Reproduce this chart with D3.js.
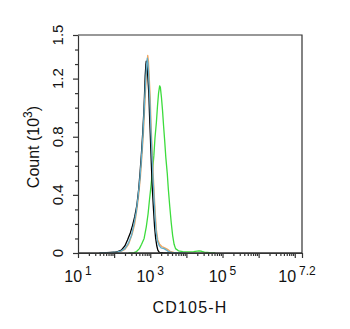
<!DOCTYPE html>
<html><head><meta charset="utf-8">
<script src="https://cdn.jsdelivr.net/npm/d3@7"></script>
<style>body{margin:0;background:#fff}svg{display:block}text{font-family:"Liberation Sans",Arial,sans-serif;fill:#111}</style>
</head><body><svg id="c" width="350" height="329"></svg>
<script>
// x values are log10(CD105-H), y values are counts in 10^3
const xTickExps = [1, 3, 5, 7.2];
const xTickLabels = ["1", "3", "5", "7.2"];
const yTicks = [0, 0.4, 0.8, 1.2, 1.5];
const yTickLabels = ["0", "0.4", "0.8", "1.2", "1.5"];
const seriesNames = ["green", "orange", "black", "blue"];
const seriesColors = ["#3ddc3d", "#f2a862", "#000000", "#62aecb"];
const green = [[2.4,0],[2.55,0.003],[2.62,0.01],[2.7,0.03],[2.76,0.06],[2.83,0.1],[2.89,0.18],[2.94,0.27],[2.98,0.37],[3.02,0.46],[3.06,0.56],[3.1,0.67],[3.13,0.79],[3.17,0.9],[3.2,1.01],[3.23,1.1],[3.26,1.15],[3.28,1.14],[3.31,1.07],[3.34,0.98],[3.37,0.87],[3.4,0.77],[3.43,0.66],[3.47,0.55],[3.5,0.44],[3.54,0.32],[3.58,0.21],[3.62,0.12],[3.66,0.06],[3.7,0.03],[3.78,0.015],[3.9,0.01],[4.05,0.008],[4.2,0.01],[4.35,0.014],[4.42,0.012],[4.5,0.006],[4.65,0.002],[4.8,0]];
const orange = [[1.6,0],[2.0,0.004],[2.2,0.012],[2.3,0.025],[2.4,0.06],[2.5,0.13],[2.57,0.2],[2.63,0.3],[2.68,0.4],[2.73,0.53],[2.77,0.67],[2.81,0.82],[2.84,0.97],[2.87,1.12],[2.9,1.27],[2.93,1.36],[2.95,1.32],[2.97,1.22],[3.0,1.06],[3.02,0.9],[3.05,0.72],[3.08,0.55],[3.11,0.4],[3.14,0.27],[3.17,0.16],[3.21,0.09],[3.26,0.06],[3.32,0.045],[3.4,0.035],[3.48,0.025],[3.55,0.012],[3.65,0.005],[3.8,0.002],[4.0,0]];
const black = [[1.6,0],[1.8,0.002],[2.0,0.005],[2.1,0.01],[2.2,0.02],[2.3,0.05],[2.37,0.09],[2.45,0.14],[2.51,0.19],[2.57,0.25],[2.63,0.33],[2.68,0.44],[2.72,0.56],[2.76,0.7],[2.79,0.82],[2.82,0.96],[2.84,1.08],[2.86,1.22],[2.88,1.3],[2.89,1.32],[2.91,1.28],[2.93,1.22],[2.96,1.1],[2.98,0.95],[3.0,0.82],[3.02,0.68],[3.04,0.55],[3.06,0.43],[3.09,0.3],[3.12,0.18],[3.15,0.1],[3.18,0.05],[3.21,0.02],[3.25,0.005],[3.35,0.002],[3.6,0]];
const blue = [[1.6,0],[1.9,0.003],[2.1,0.008],[2.2,0.015],[2.3,0.03],[2.4,0.07],[2.48,0.12],[2.55,0.2],[2.61,0.28],[2.66,0.38],[2.71,0.5],[2.75,0.63],[2.79,0.78],[2.82,0.92],[2.85,1.08],[2.88,1.22],[2.9,1.3],[2.92,1.34],[2.94,1.3],[2.96,1.2],[2.99,1.05],[3.01,0.9],[3.04,0.72],[3.07,0.55],[3.1,0.4],[3.13,0.26],[3.16,0.15],[3.2,0.08],[3.25,0.05],[3.3,0.035],[3.38,0.03],[3.45,0.02],[3.5,0.01],[3.6,0.004],[3.8,0.002],[4.0,0]];
const seriesData = [green, orange, black, blue];

const svg = d3.select("#c");
const L = 78, R = 302, T = 35, B = 253;
const x = d3.scaleLog().domain([10, Math.pow(10, 7.2)]).range([L, R]);
const y = d3.scaleLinear().domain([0, 1.5]).range([B, T]);

// curves
const line = d3.line().x(d => x(Math.pow(10, d[0]))).y(d => y(d[1]));
seriesData.forEach((s, i) => {
  svg.append("path").datum(s).attr("d", line)
    .attr("fill", "none").attr("stroke", seriesColors[i])
    .attr("stroke-width", 1.3).attr("stroke-linejoin", "round");
});

// frame top/right
svg.append("path").attr("d", `M${L},${T}H${R}V${B}`).attr("fill","none").attr("stroke","#333").attr("stroke-width",1.2);

// x axis
const xMinor = [];
for (let e = 1; e < 8; e++) for (let k = 2; k <= 9; k++) { const v = k * Math.pow(10, e); if (v < Math.pow(10,7.2)) xMinor.push(v); }
const xMajor = [1,2,3,4,5,6,7].map(e => Math.pow(10, e)).concat([Math.pow(10,7.2)]);
const gx = svg.append("g").attr("transform", `translate(0,${B})`);
gx.call(d3.axisBottom(x).tickValues(xMinor).tickSize(3).tickFormat(""));
gx.call(g => g.select(".domain").remove());
const gx2 = svg.append("g").attr("transform", `translate(0,${B})`);
gx2.call(d3.axisBottom(x).tickValues(xMajor).tickSize(5).tickSizeOuter(0).tickFormat(""));
svg.append("line").attr("x1", L).attr("x2", R).attr("y1", B).attr("y2", B).attr("stroke", "#333").attr("stroke-width", 1.4);

xTickExps.forEach((e, i) => {
  const t = svg.append("text").attr("y", 282).attr("text-anchor", "middle").attr("x", x(Math.pow(10, e)) + (e > 7 ? -5 : 0));
  t.append("tspan").attr("font-size", 16).text("10");
  t.append("tspan").attr("font-size", 12).attr("dx", 3).attr("dy", -7).text(xTickLabels[i]);
});

// y axis
const yMinor = d3.range(0, 16).map(i => i / 10).filter(v => yTicks.indexOf(v) < 0);
const gy = svg.append("g").attr("transform", `translate(${L},0)`);
gy.call(d3.axisLeft(y).tickValues(yMinor).tickSize(3).tickFormat(""));
gy.call(g => g.select(".domain").remove());
const gy2 = svg.append("g").attr("transform", `translate(${L},0)`);
gy2.call(d3.axisLeft(y).tickValues(yTicks).tickSize(5).tickSizeOuter(0).tickFormat(""));
svg.selectAll(".tick line, .domain").attr("stroke", "#333").attr("stroke-width", 1.2);
yTicks.forEach((v, i) => {
  svg.append("text").attr("transform", `translate(63,${y(v)}) rotate(-90)`)
    .attr("text-anchor", "middle").attr("font-size", 15).text(yTickLabels[i]);
});

// axis titles
const yt = svg.append("text").attr("transform", "translate(39,147) rotate(-90)").attr("text-anchor", "middle").attr("font-size", 16);
yt.append("tspan").text("Count  (10");
yt.append("tspan").attr("font-size", 12).attr("dy", -7).text("3");
yt.append("tspan").attr("dy", 7).text(")");
svg.append("text").attr("x", 190).attr("y", 313).attr("text-anchor", "middle").attr("font-size", 16).attr("letter-spacing", 1.2).text("CD105-H");
</script></body></html>
